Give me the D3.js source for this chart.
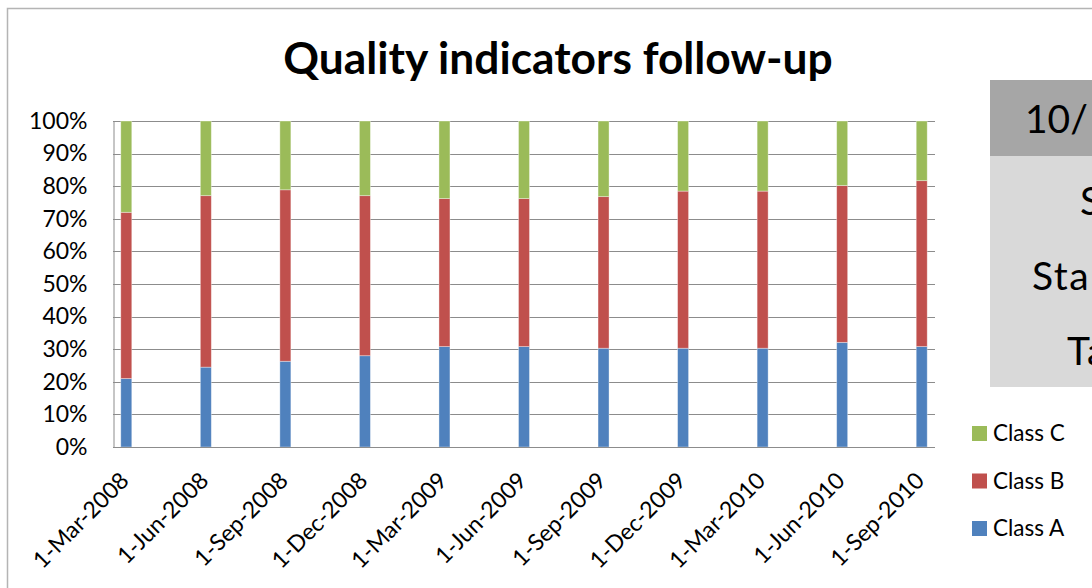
<!DOCTYPE html>
<html>
<head>
<meta charset="utf-8">
<script src="https://cdn.jsdelivr.net/npm/d3@7"></script>
<style>
  body { margin: 0; background: #fff; }
  svg { display: block; font-family: Lato, "Open Sans", sans-serif; }
</style>
</head>
<body>
<svg id="chart" width="1092" height="588"></svg>
<script>
// quarterly snapshots
const dates = ["1-Mar-2008", "1-Jun-2008", "1-Sep-2008", "1-Dec-2008", "1-Mar-2009", "1-Jun-2009",
               "1-Sep-2009", "1-Dec-2009", "1-Mar-2010", "1-Jun-2010", "1-Sep-2010"];
const classA = [21.0, 24.5, 26.3, 28.0, 30.8, 30.8, 30.3, 30.3, 30.3, 32.1, 30.8];
const classB = [51.0, 52.6, 52.6, 49.1, 45.4, 45.4, 46.5, 48.2, 48.2, 48.1, 50.9];
const classC = [28.0, 22.9, 21.1, 22.9, 23.8, 23.8, 23.2, 21.5, 21.5, 19.8, 18.3];
const seriesNames = ["Class A", "Class B", "Class C"];
const yTicks = [0, 0.1, 0.2, 0.3, 0.4, 0.5, 0.6, 0.7, 0.8, 0.9, 1];
const panelLines = ["S", "Sta", "Ta"];

const colors = { "Class A": "#4F81BD", "Class B": "#C0504D", "Class C": "#9BBB59" };

const rows = dates.map((d, i) => ({ date: d, "Class A": classA[i], "Class B": classB[i], "Class C": classC[i] }));

const svg = d3.select("#chart");

// outer chart frame (runs off the right and bottom)
svg.append("path")
    .attr("d", "M7.5,600 V8.5 H1100")
    .attr("fill", "none")
    .attr("stroke", "#b4b4b4")
    .attr("stroke-width", 1.5);

const plot = { left: 113, right: 935, top: 121, bottom: 447 };

const x = d3.scalePoint()
    .domain(dates)
    .range([plot.left, plot.right])
    .padding(0.167);

const y = d3.scaleLinear()
    .domain([0, 1])
    .range([plot.bottom, plot.top]);

// gridlines
svg.append("g")
    .selectAll("line")
    .data(yTicks)
    .enter()
    .append("line")
    .attr("x1", plot.left)
    .attr("x2", plot.right)
    .attr("y1", d => Math.round(y(d)) + 0.5)
    .attr("y2", d => Math.round(y(d)) + 0.5)
    .attr("stroke", "#8c8c8c")
    .attr("stroke-width", 1);

// y axis
const yAxis = svg.append("g")
    .attr("transform", `translate(${plot.left + 0.5},0)`)
    .call(d3.axisLeft(y).tickValues(yTicks).tickFormat(d3.format(".0%")).tickSize(0).tickPadding(26));
yAxis.select(".domain").attr("stroke", "#8c8c8c");
yAxis.selectAll("text")
    .style("font-family", "Lato, sans-serif")
    .style("font-size", "23px")
    .attr("fill", "#000");

// stacked bars
const stack = d3.stack().keys(seriesNames).offset(d3.stackOffsetExpand);
const layers = stack(rows);
const barW = 11;

svg.append("g")
    .selectAll("g")
    .data(layers)
    .enter()
    .append("g")
    .attr("fill", d => colors[d.key])
    .selectAll("rect")
    .data(d => d)
    .enter()
    .append("rect")
    .attr("x", d => x(d.data.date) - barW / 2)
    .attr("y", d => y(d[1]))
    .attr("width", barW)
    .attr("height", d => y(d[0]) - y(d[1]))
    .attr("stroke", "rgba(255,255,255,0.45)")
    .attr("stroke-width", 0.8);

// x axis line
svg.append("line")
    .attr("x1", plot.left)
    .attr("x2", plot.right)
    .attr("y1", plot.bottom + 0.5)
    .attr("y2", plot.bottom + 0.5)
    .attr("stroke", "#8c8c8c");

// rotated date labels
svg.append("g")
    .selectAll("text")
    .data(dates)
    .enter()
    .append("text")
    .attr("transform", d => `translate(${x(d) + 4},${plot.bottom + 35}) rotate(-45)`)
    .attr("text-anchor", "end")
    .style("font-size", "23px")
    .attr("fill", "#000")
    .text(d => d);

// title, scaled to span the same width as the original
const title = svg.append("text")
    .attr("x", 558)
    .attr("y", 74)
    .attr("text-anchor", "middle")
    .style("font-weight", "bold")
    .style("font-size", "38px")
    .attr("fill", "#000")
    .text("Quality indicators follow-up");
const tw = title.node().getComputedTextLength();
title.style("font-size", (38 * 550 / tw).toFixed(1) + "px");

// side panel (clipped by the page edge)
svg.append("rect").attr("x", 990).attr("y", 80).attr("width", 140).attr("height", 76).attr("fill", "#a6a6a6");
svg.append("rect").attr("x", 990).attr("y", 156).attr("width", 140).attr("height", 231).attr("fill", "#d9d9d9");
svg.append("text")
    .attr("x", 1025).attr("y", 133)
    .style("font-size", "39px")
    .attr("fill", "#000")
    .text("10/");
const panelX = [1080, 1032, 1067];
svg.append("g")
    .selectAll("text")
    .data(panelLines)
    .enter()
    .append("text")
    .attr("x", (d, i) => panelX[i])
    .attr("y", (d, i) => 215 + i * 75)
    .style("font-size", "39px")
    .style("letter-spacing", "1.5px")
    .attr("fill", "#000")
    .text(d => d);

// legend
const legend = svg.append("g")
    .selectAll("g")
    .data(seriesNames.slice().reverse())
    .enter()
    .append("g")
    .attr("transform", (d, i) => `translate(972,${426 + i * 47.5})`);
legend.append("rect")
    .attr("width", 15)
    .attr("height", 15)
    .attr("fill", d => colors[d]);
legend.append("text")
    .attr("x", 21)
    .attr("y", 15)
    .style("font-size", "22.5px")
    .attr("fill", "#000")
    .text(d => d);
</script>
</body>
</html>
